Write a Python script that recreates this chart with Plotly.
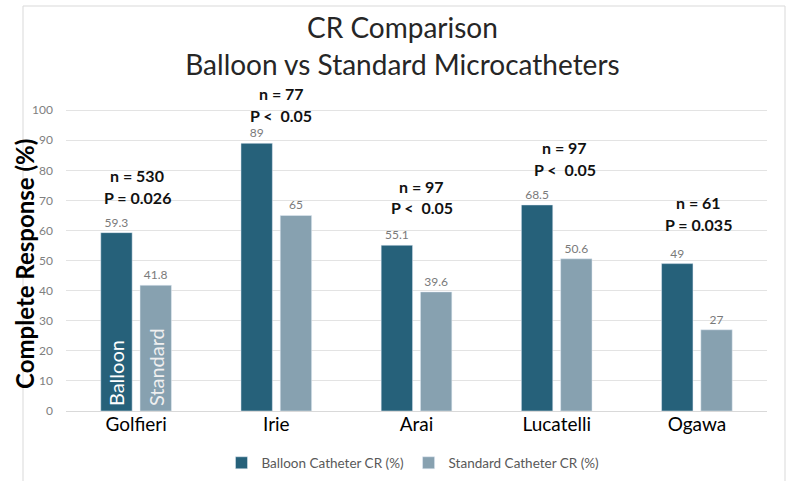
import plotly.graph_objects as go

categories = ["Golfieri", "Irie", "Arai", "Lucatelli", "Ogawa"]
balloon_cr = [59.3, 89, 55.1, 68.5, 49]
standard_cr = [41.8, 65, 39.6, 50.6, 27]
n_labels = ["n = 530", "n = 77", "n = 97", "n = 97", "n = 61"]
p_labels = ["P = 0.026", "P <  0.05", "P <  0.05", "P <  0.05", "P = 0.035"]
n_y = [78.2, 105.4, 74.6, 87.5, 69.3]
p_y = [70.9, 98.4, 67.6, 80.2, 62.0]
ann_shift = [1, 5, 5, 8, 2]
y_ticks = [0, 10, 20, 30, 40, 50, 60, 70, 80, 90, 100]
Y_MAX = 100.4

FONT = "Lato"
C_BAL = "#26617a"
C_STD = "#87a1b0"

fig = go.Figure()
fig.add_trace(go.Bar(
    x=categories, y=balloon_cr, name="Balloon Catheter CR (%)",
    marker=dict(color=C_BAL),
    text=[f"{v:g}" for v in balloon_cr], textposition="outside",
    textfont=dict(family=FONT, size=12, color="#7a7a7a"),
    cliponaxis=False,
))
fig.add_trace(go.Bar(
    x=categories, y=standard_cr, name="Standard Catheter CR (%)",
    marker=dict(color=C_STD),
    text=[f"{v:g}" for v in standard_cr], textposition="outside",
    textfont=dict(family=FONT, size=12, color="#7a7a7a"),
    cliponaxis=False,
))

annotations = []
for c, nl, pl, ny, py, sh in zip(categories, n_labels, p_labels, n_y, p_y, ann_shift):
    annotations.append(dict(x=c, yref="paper", y=ny / Y_MAX, yanchor="middle", xanchor="center",
                            text=f"<b>{nl}</b>", showarrow=False, xshift=sh,
                            font=dict(family=FONT, size=16, color="#111111")))
    annotations.append(dict(x=c, yref="paper", y=py / Y_MAX, yanchor="middle", xanchor="center",
                            text=f"<b>{pl}</b>", showarrow=False, xshift=sh,
                            font=dict(family=FONT, size=16, color="#111111")))

annotations.append(dict(x=categories[0], y=0, text="Balloon", textangle=-90, showarrow=False,
                        xshift=-20, yshift=3, yanchor="bottom", xanchor="center",
                        font=dict(family=FONT, size=20, color="#ffffff")))
annotations.append(dict(x=categories[0], y=0, text="Standard", textangle=-90, showarrow=False,
                        xshift=20, yshift=3, yanchor="bottom", xanchor="center",
                        font=dict(family=FONT, size=20, color="#f0f0f0")))
annotations.append(dict(xref="paper", yref="paper", x=(25 - 66) / 701, y=0.487,
                        xanchor="center", yanchor="middle",
                        text="<b>Complete Response (%)</b>", textangle=-90, showarrow=False,
                        font=dict(family=FONT, size=24, color="#000000")))

fig.update_layout(
    width=786, height=481,
    margin=dict(l=66, r=19, t=109, b=70),
    paper_bgcolor="white", plot_bgcolor="white",
    barmode="group", bargap=0.44, bargroupgap=0.2,
    title=dict(text="CR Comparison<br>Balloon vs Standard Microcatheters",
               x=0.512, xanchor="center", y=0.92, yanchor="middle",
               font=dict(family=FONT, size=28, color="#262626")),
    xaxis=dict(showgrid=False, showline=False, ticks="",
               tickfont=dict(family=FONT, size=19, color="#000000")),
    yaxis=dict(range=[0, Y_MAX], tickvals=y_ticks, showgrid=True, gridcolor="#e3e3e3",
               gridwidth=1, zeroline=True, zerolinecolor="#d9d9d9", zerolinewidth=1,
               ticklabelstandoff=12,
               tickfont=dict(family=FONT, size=12, color="#808080")),
    legend=dict(orientation="h", x=0.495, xanchor="center",
                yref="container", y=1 - 463 / 481, yanchor="middle",
                font=dict(family=FONT, size=13.5, color="#595959"), itemwidth=30),
    annotations=annotations,
    shapes=[dict(type="rect", xref="paper", yref="paper",
                 x0=(23 - 66) / 701, x1=(785 - 66) / 701,
                 y0=(411 - 495) / 302, y1=(411 - 6) / 302,
                 line=dict(color="#d9d9d9", width=1), layer="below")],
    showlegend=True,
)

fig.write_html("out.html", config={"displayModeBar": False},
               post_script="document.body.style.margin='0';")
